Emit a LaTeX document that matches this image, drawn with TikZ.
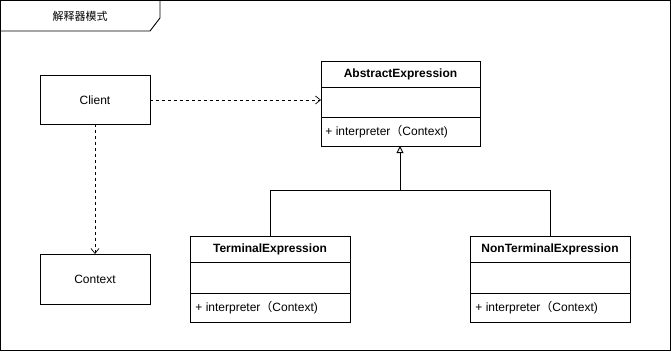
\documentclass[tikz,border=0pt]{standalone}
\usepackage{fontspec}
\setmainfont{Liberation Sans}
\newfontfamily\cjk{Noto Sans CJK SC}
\usetikzlibrary{arrows.meta}
\begin{document}
\begin{tikzpicture}[x=1pt,y=-1pt,line width=0.9pt,
  txt/.style={font=\fontsize{12}{14}\selectfont,inner sep=0pt},
  hdr/.style={font=\bfseries\fontsize{12}{14}\selectfont,inner sep=0pt},
  dep/.style={dashed,dash pattern=on 3pt off 3pt,-{Straight Barb[length=5pt,width=8pt]}},
  inh/.style={-{Triangle[open,length=7pt,width=7pt]}}]
\useasboundingbox (0,0) rectangle (671,351);
% frame
\draw (0.5,0.5) rectangle (670.5,350.5);
\draw (160,0.5) -- (160,18) -- (150,31) -- (0.5,31);
\node[txt,font=\cjk\fontsize{11}{13}\selectfont] (title) at (80,16) {解释器模式};
% Client
\draw (40,75) rectangle (150,124);
\node[txt] (client) at (95,100) {Client};
\coordinate (cr) at (150,100);
\coordinate (cb) at (95,124);
% Context
\draw (40,254) rectangle (150,304);
\node[txt] (context) at (95,279) {Context};
\coordinate (ct) at (95,254);
% AbstractExpression
\draw (321,61) rectangle (480,146);
\draw (321,87) -- (480,87);
\draw (321,117) -- (480,117);
\node[hdr] (abs) at (400.5,74) {AbstractExpression};
\node[txt,anchor=west] (absm) at (325,132) {+ interpreter{\cjk （}Context)};
\coordinate (al) at (321,100);
\coordinate (ab) at (400,146);
% Terminal
\draw (190,236) rectangle (350,322);
\draw (190,262) -- (350,262);
\draw (190,293) -- (350,293);
\node[hdr] (term) at (270,249) {TerminalExpression};
\node[txt,anchor=west] (termm) at (195,308) {+ interpreter{\cjk （}Context)};
\coordinate (tt) at (270,236);
% NonTerminal
\draw (470,236) rectangle (630,322);
\draw (470,262) -- (630,262);
\draw (470,293) -- (630,293);
\node[hdr] (nterm) at (550,249) {NonTerminalExpression};
\node[txt,anchor=west] (ntermm) at (475,308) {+ interpreter{\cjk （}Context)};
\coordinate (nt) at (550,236);
% connectors
\draw[dep,line width=0.7pt] (cr) -- (al);
\draw[dep,line width=0.7pt] (cb) -- (ct);
\coordinate (j) at (400,190);
\draw (tt) |- (j);
\draw (nt) |- (j);
\draw[inh] (j) -- (ab);
\end{tikzpicture}
\end{document}
